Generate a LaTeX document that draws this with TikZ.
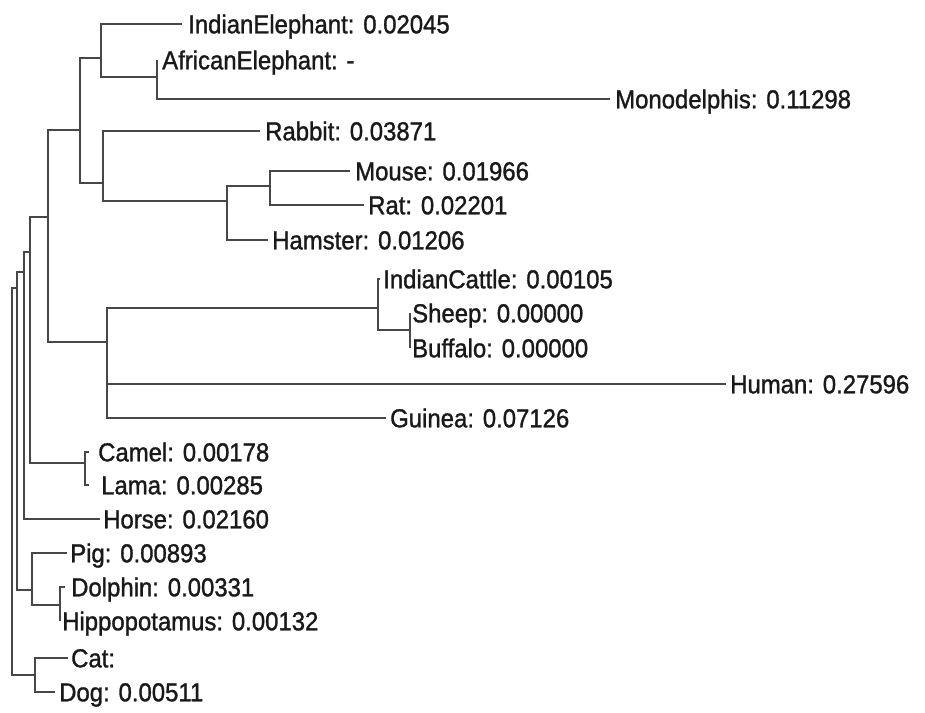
\documentclass[tikz,border=0pt]{standalone}
\usepackage{fontspec}
\newfontfamily\lblfont{Liberation Sans}[FakeBold=1.2,FakeStretch=0.92]
\begin{document}
\begin{tikzpicture}[x=1pt,y=-1pt]
\tikzset{
  br/.style={draw=black!72, line width=1.2pt},
  leaf/.style={anchor=west, inner ysep=0pt, inner xsep=4pt, text height=18.6pt, text depth=0pt,
    font=\lblfont\fontsize{26}{30}\selectfont, text=black!90},
}
\useasboundingbox[fill=white] (0,0) rectangle (925,712);
% leaves
\node[leaf,inner xsep=6pt] (IE) at (182,24) {IndianElephant: 0.02045};
\node[leaf,inner xsep=5pt] (AE) at (157,60) {AfricanElephant: -};
\node[leaf,inner xsep=5pt] (MO) at (610,99) {Monodelphis: 0.11298};
\node[leaf,inner xsep=5pt] (RA) at (260,131) {Rabbit: 0.03871};
\node[leaf,inner xsep=5pt] (MS) at (350,171) {Mouse: 0.01966};
\node[leaf,inner xsep=4pt] (RT) at (364,205) {Rat: 0.02201};
\node[leaf,inner xsep=4pt] (HA) at (268,240) {Hamster: 0.01206};
\node[leaf,inner xsep=3pt] (IC) at (380,279) {IndianCattle: 0.00105};
\node[leaf,inner xsep=2pt] (SH) at (410,313) {Sheep: 0.00000};
\node[leaf,inner xsep=2pt] (BU) at (410,348) {Buffalo: 0.00000};
\node[leaf,inner xsep=4pt] (HU) at (726,384) {Human: 0.27596};
\node[leaf,inner xsep=4pt] (GU) at (386,418) {Guinea: 0.07126};
\node[leaf,inner xsep=9pt] (CA) at (89,452) {Camel: 0.00178};
\node[leaf,inner xsep=12pt] (LA) at (89,485) {Lama: 0.00285};
\node[leaf,inner xsep=3pt] (HO) at (100,519) {Horse: 0.02160};
\node[leaf,inner xsep=3pt] (PI) at (67,553) {Pig: 0.00893};
\node[leaf,inner xsep=6pt] (DO) at (65,587) {Dolphin: 0.00331};
\node[leaf,inner xsep=2pt] (HI) at (60,621) {Hippopotamus: 0.00132};
\node[leaf,inner xsep=3pt] (CT) at (68,658) {Cat:};
\node[leaf,inner xsep=4pt] (DG) at (55,692) {Dog: 0.00511};
% internal nodes
\coordinate (E1) at (157,77);
\coordinate (M1) at (101,58);
\coordinate (R3) at (270,186);
\coordinate (R2) at (227,201);
\coordinate (R1) at (103,183);
\coordinate (A) at (80,130);
\coordinate (C2) at (410,330);
\coordinate (C1) at (378,308);
\coordinate (G) at (107,342);
\coordinate (B) at (48,217);
\coordinate (CL) at (85,463);
\coordinate (C) at (30,252);
\coordinate (D) at (24,272);
\coordinate (DH) at (60,605);
\coordinate (P) at (32,590);
\coordinate (E) at (17,288);
\coordinate (CD) at (35,675);
\coordinate (F) at (12,480);
% branches
\draw[br] (E1) |- (AE.west) (E1) |- (MO.west);
\draw[br] (M1) |- (IE.west) (M1) |- (E1);
\draw[br] (R3) |- (MS.west) (R3) |- (RT.west);
\draw[br] (R2) |- (R3) (R2) |- (HA.west);
\draw[br] (R1) |- (RA.west) (R1) |- (R2);
\draw[br] (A) |- (M1) (A) |- (R1);
\draw[br] (C2) |- (SH.west) (C2) |- (BU.west);
\draw[br] (C1) |- (IC.west) (C1) |- (C2);
\draw[br] (G) |- (C1) (G) |- (HU.west) (G) |- (GU.west);
\draw[br] (B) |- (A) (B) |- (G);
\draw[br] (CL) |- (CA.west) (CL) |- (LA.west);
\draw[br] (C) |- (B) (C) |- (CL);
\draw[br] (D) |- (C) (D) |- (HO.west);
\draw[br] (DH) |- (DO.west) (DH) |- (HI.west);
\draw[br] (P) |- (PI.west) (P) |- (DH);
\draw[br] (E) |- (D) (E) |- (P);
\draw[br] (CD) |- (CT.west) (CD) |- (DG.west);
\draw[br] (F) |- (E) (F) |- (CD);
\end{tikzpicture}
\end{document}
